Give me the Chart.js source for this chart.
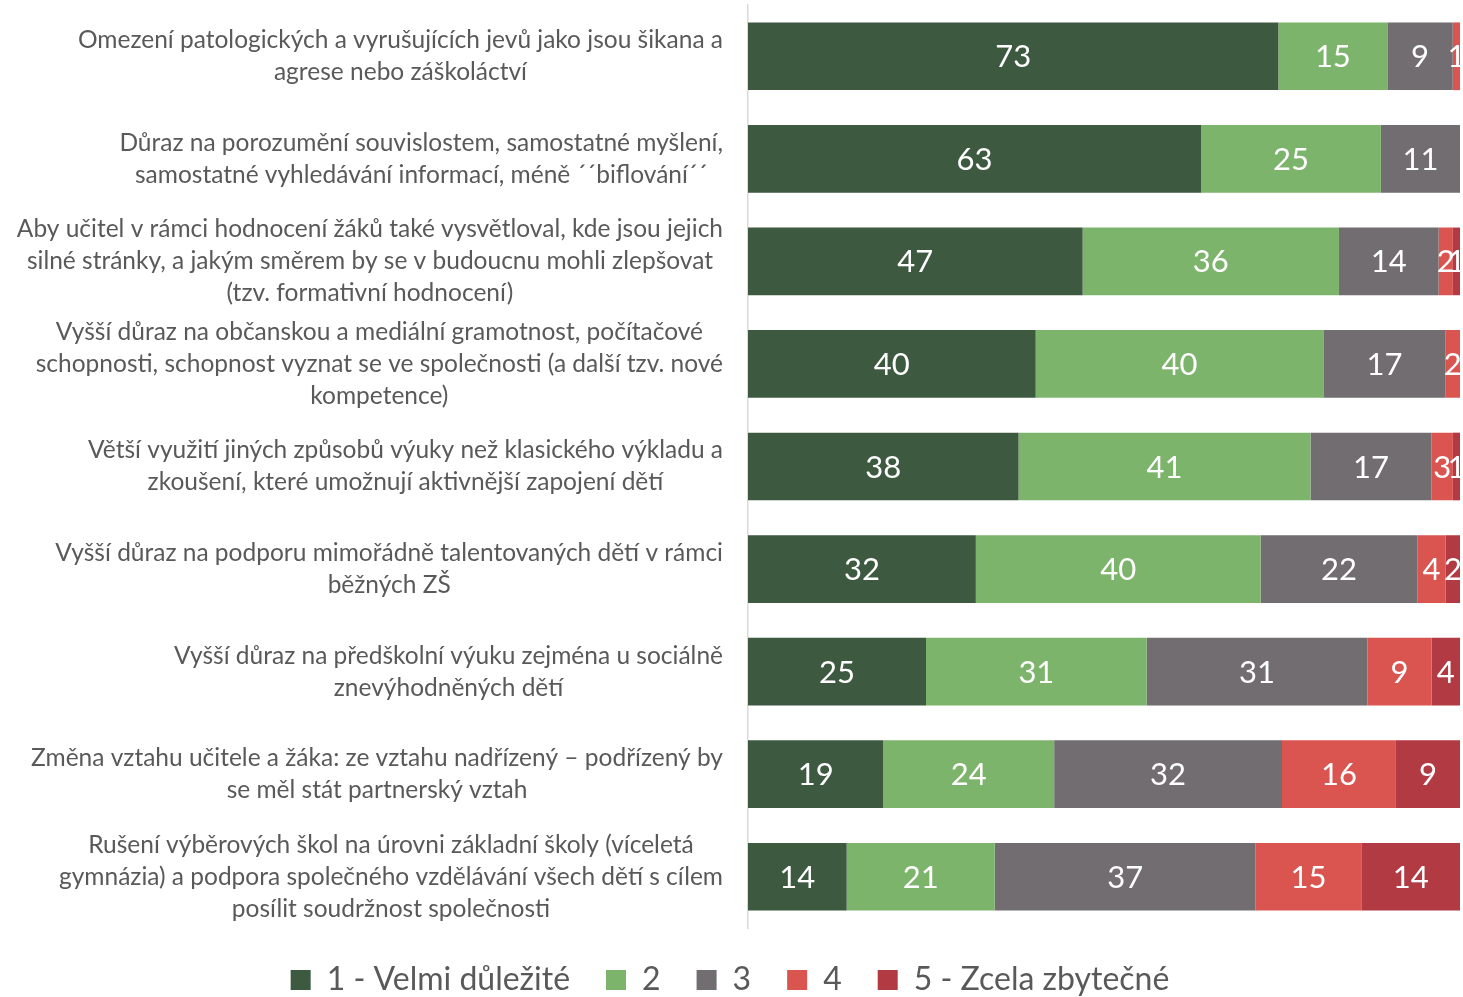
<!DOCTYPE html>
<html>
<head>
<meta charset="utf-8">
<script src="https://cdn.jsdelivr.net/npm/chart.js@4"></script>
<style>
  html, body { margin: 0; padding: 0; background: #fff; }
  #wrap { width: 1463px; height: 997px; }
</style>
</head>
<body>
<div id="wrap"><canvas id="chart"></canvas></div>
<script>
const categories = [
  ["Omezení patologických a vyrušujících jevů jako jsou šikana a", "agrese nebo záškoláctví"],
  ["Důraz na porozumění souvislostem, samostatné myšlení,", "samostatné vyhledávání informací, méně ´´biflování´´"],
  ["Aby učitel v rámci hodnocení žáků také vysvětloval, kde jsou jejich", "silné stránky, a jakým směrem by se v budoucnu mohli zlepšovat", "(tzv. formativní hodnocení)"],
  ["Vyšší důraz na občanskou a mediální gramotnost, počítačové", "schopnosti, schopnost vyznat se ve společnosti (a další tzv. nové", "kompetence)"],
  ["Větší využití jiných způsobů výuky než klasického výkladu a", "zkoušení, které umožnují aktivnější zapojení dětí"],
  ["Vyšší důraz na podporu mimořádně talentovaných dětí v rámci", "běžných ZŠ"],
  ["Vyšší důraz na předškolní výuku zejména u sociálně", "znevýhodněných dětí"],
  ["Změna vztahu učitele a žáka: ze vztahu nadřízený – podřízený by", "se měl stát partnerský vztah"],
  ["Rušení výběrových škol na úrovni základní školy (víceletá", "gymnázia) a podpora společného vzdělávání všech dětí s cílem", "posílit soudržnost společnosti"]
];

const seriesNames = ["1 - Velmi důležité", "2", "3", "4", "5 - Zcela zbytečné"];
const s1 = [73, 63, 47, 40, 38, 32, 25, 19, 14];
const s2 = [15, 25, 36, 40, 41, 40, 31, 24, 21];
const s3 = [9, 11, 14, 17, 17, 22, 31, 32, 37];
const s4 = [1, 0, 2, 2, 3, 4, 9, 16, 15];
const s5 = [0, 0, 1, 0, 1, 2, 4, 9, 14];
const colors = ["#3d5a41", "#7db46c", "#716d70", "#da5450", "#b13a43"];

const allSeries = [s1, s2, s3, s4, s5];
// 100% stacked: každý řádek přepočítán na podíl
const totals = categories.map((c, i) => allSeries.reduce((a, s) => a + s[i], 0));

const textColor = "#595959";
const fontFam = "Lato, 'Open Sans', sans-serif";

// popisky kategorií (řádky vycentrované, blok zarovnaný vpravo)
const catLabels = {
  id: "catLabels",
  afterDraw(chart) {
    const ctx = chart.ctx;
    const y = chart.scales.y;
    const right = chart.chartArea.left - 25;
    const lh = 32;
    ctx.save();
    ctx.font = "24.5px " + fontFam;
    ctx.fillStyle = textColor;
    ctx.textAlign = "center";
    ctx.textBaseline = "middle";
    categories.forEach((lines, i) => {
      const cy = y.getPixelForValue(i);
      const maxW = Math.max(...lines.map(l => ctx.measureText(l).width));
      const cx = right - maxW / 2;
      lines.forEach((l, k) => {
        ctx.fillText(l, cx, cy + (k - (lines.length - 1) / 2) * lh);
      });
    });
    ctx.restore();
  }
};

// hodnoty uvnitř pruhů
const valueLabels = {
  id: "valueLabels",
  afterDatasetsDraw(chart) {
    const ctx = chart.ctx;
    const a = chart.chartArea;
    ctx.save();
    ctx.beginPath();
    ctx.rect(a.left, a.top, a.right - a.left, a.bottom - a.top);
    ctx.clip();
    ctx.font = "31px " + fontFam;
    ctx.fillStyle = "#fff";
    ctx.textAlign = "center";
    ctx.textBaseline = "middle";
    chart.data.datasets.forEach((ds, di) => {
      chart.getDatasetMeta(di).data.forEach((bar, i) => {
        const v = allSeries[di][i];
        if (!v) return;
        const cx = (bar.x + bar.base) / 2;
        ctx.fillText(String(v), cx, bar.y + 1);
      });
    });
    ctx.restore();
  }
};

new Chart(document.getElementById("chart"), {
  type: "bar",
  data: {
    labels: categories.map(c => c.join(" ")),
    datasets: allSeries.map((s, k) => ({
      label: seriesNames[k],
      data: s.map((v, i) => v / totals[i] * 100),
      backgroundColor: colors[k],
      borderWidth: 0,
      barPercentage: 0.66,
      categoryPercentage: 1.0
    }))
  },
  options: {
    indexAxis: "y",
    responsive: true,
    maintainAspectRatio: false,
    animation: false,
    layout: { padding: { top: 5, right: 3, left: 0, bottom: -9 } },
    scales: {
      x: { stacked: true, min: 0, max: 100, display: false },
      y: {
        stacked: true,
        grid: { display: false },
        border: { display: true, color: "#d9d9d9", width: 1.5 },
        ticks: { display: false },
        afterFit(scale) { scale.width = 748; }
      }
    },
    plugins: {
      tooltip: { enabled: false },
      legend: {
        position: "bottom",
        labels: {
          color: textColor,
          font: { size: 32, family: fontFam },
          boxWidth: 20,
          boxHeight: 20,
          padding: 36
        }
      }
    }
  },
  plugins: [catLabels, valueLabels]
});
</script>
</body>
</html>
